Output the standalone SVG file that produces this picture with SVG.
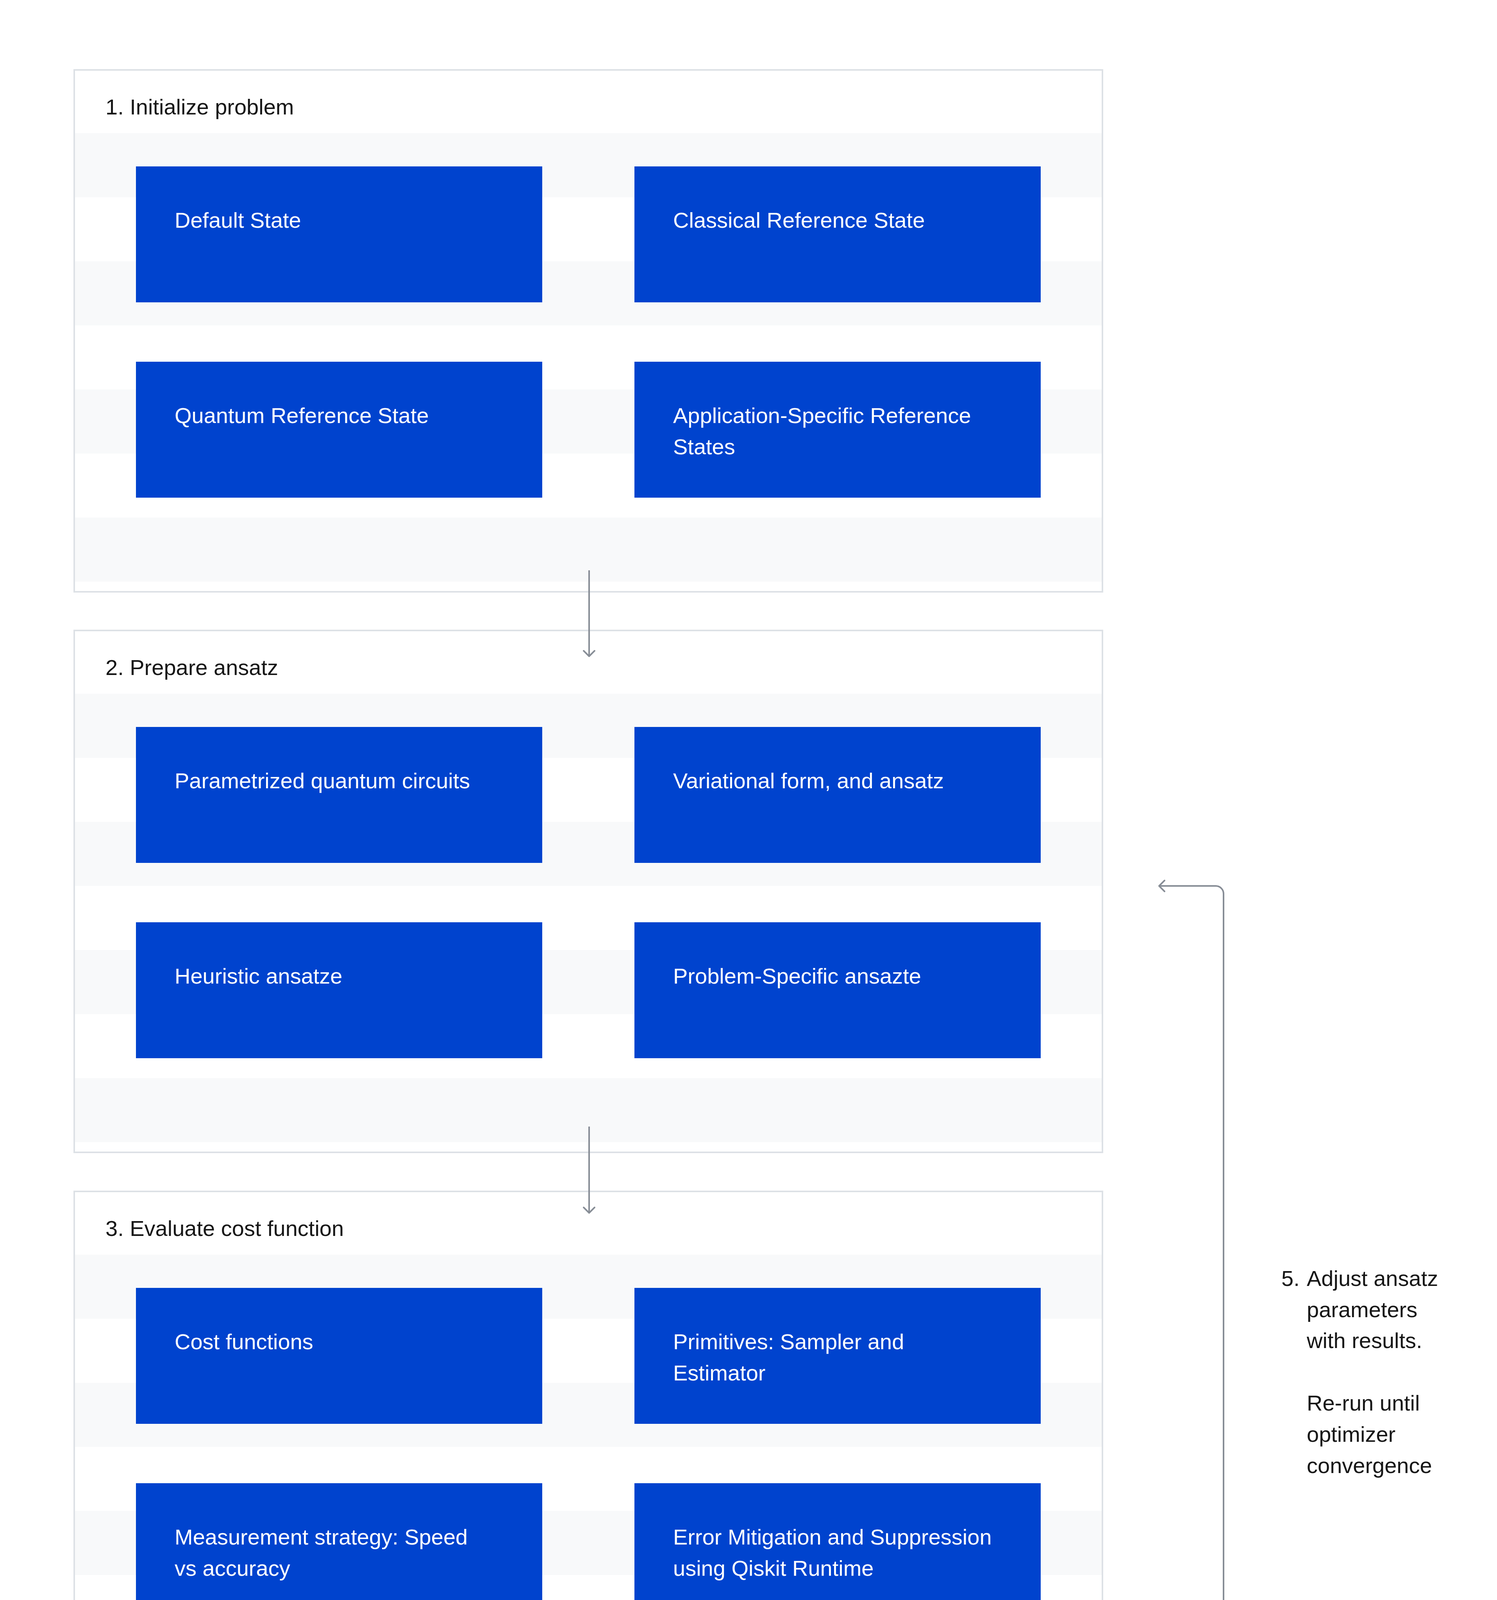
<svg xmlns="http://www.w3.org/2000/svg" width="3832" height="6228" viewBox="0 0 3832 6228">
<style>
.frame{fill:#ffffff;stroke:#dde1e6;stroke-width:4}
.stripe{fill:#f8f9fa}
.box{fill:#0043ce}
.t{font-family:"Liberation Sans",Arial,sans-serif;font-size:56px;fill:#161616}
.bt{font-family:"Liberation Sans",Arial,sans-serif;font-size:56px;fill:#ffffff}
.conn{fill:none;stroke:#878d96;stroke-width:4}
</style>
<defs>
<marker id="ah" markerUnits="userSpaceOnUse" viewBox="-18 -18 22 36" refX="0" refY="0" markerWidth="22" markerHeight="36" orient="auto" overflow="visible">
<path d="M-14,-14 L0,0 L-14,14" fill="none" stroke="#878d96" stroke-width="4" stroke-linecap="round" stroke-linejoin="round"/>
</marker>
</defs>
<rect width="3832" height="6228" fill="#ffffff"/>

<g id="frame1">
<rect class="frame" x="190" y="179" width="2632" height="1336"/>
<rect class="stripe" x="192" y="341" width="2628" height="164"/>
<rect class="stripe" x="192" y="669" width="2628" height="164"/>
<rect class="stripe" x="192" y="997" width="2628" height="164"/>
<rect class="stripe" x="192" y="1325" width="2628" height="164"/>
<text class="t" x="270" y="293">1. Initialize problem</text>
</g>
<g id="frame2">
<rect class="frame" x="190" y="1614" width="2632" height="1336"/>
<rect class="stripe" x="192" y="1776" width="2628" height="164"/>
<rect class="stripe" x="192" y="2104" width="2628" height="164"/>
<rect class="stripe" x="192" y="2432" width="2628" height="164"/>
<rect class="stripe" x="192" y="2760" width="2628" height="164"/>
<text class="t" x="270" y="1728">2. Prepare ansatz</text>
</g>
<g id="frame3">
<rect class="frame" x="190" y="3050" width="2632" height="1336"/>
<rect class="stripe" x="192" y="3212" width="2628" height="164"/>
<rect class="stripe" x="192" y="3540" width="2628" height="164"/>
<rect class="stripe" x="192" y="3868" width="2628" height="164"/>
<rect class="stripe" x="192" y="4196" width="2628" height="164"/>
<text class="t" x="270" y="3164">3. Evaluate cost function</text>
</g>
<g id="frame4">
<rect class="frame" x="190" y="4490" width="2632" height="1336"/>
<rect class="stripe" x="192" y="4652" width="2628" height="164"/>
<rect class="stripe" x="192" y="4980" width="2628" height="164"/>
<rect class="stripe" x="192" y="5308" width="2628" height="164"/>
<rect class="stripe" x="192" y="5636" width="2628" height="164"/>
<text class="t" x="270" y="4604">4. Optimize parameters to get results</text>
</g>

<g id="default-state"><rect class="box" x="348" y="426" width="1040" height="348"/><text class="bt" x="447" y="583">Default State</text></g>
<g id="classical-reference-state"><rect class="box" x="1624" y="426" width="1040" height="348"/><text class="bt" x="1723" y="583">Classical Reference State</text></g>
<g id="quantum-reference-state"><rect class="box" x="348" y="926" width="1040" height="348"/><text class="bt" x="447" y="1083">Quantum Reference State</text></g>
<g id="application-specific-reference-states"><rect class="box" x="1624" y="926" width="1040" height="348"/><text class="bt" x="1723" y="1083">Application-Specific Reference</text><text class="bt" x="1723" y="1163">States</text></g>

<g id="parametrized-quantum-circuits"><rect class="box" x="348" y="1861" width="1040" height="348"/><text class="bt" x="447" y="2018">Parametrized quantum circuits</text></g>
<g id="variational-form"><rect class="box" x="1624" y="1861" width="1040" height="348"/><text class="bt" x="1723" y="2018">Variational form, and ansatz</text></g>
<g id="heuristic-ansatze"><rect class="box" x="348" y="2361" width="1040" height="348"/><text class="bt" x="447" y="2518">Heuristic ansatze</text></g>
<g id="problem-specific-ansatze"><rect class="box" x="1624" y="2361" width="1040" height="348"/><text class="bt" x="1723" y="2518">Problem-Specific ansazte</text></g>

<g id="cost-functions"><rect class="box" x="348" y="3297" width="1040" height="348"/><text class="bt" x="447" y="3454">Cost functions</text></g>
<g id="primitives"><rect class="box" x="1624" y="3297" width="1040" height="348"/><text class="bt" x="1723" y="3454">Primitives: Sampler and</text><text class="bt" x="1723" y="3534">Estimator</text></g>
<g id="measurement-strategy"><rect class="box" x="348" y="3797" width="1040" height="348"/><text class="bt" x="447" y="3954">Measurement strategy: Speed</text><text class="bt" x="447" y="4034">vs accuracy</text></g>
<g id="error-mitigation"><rect class="box" x="1624" y="3797" width="1040" height="348"/><text class="bt" x="1723" y="3954">Error Mitigation and Suppression</text><text class="bt" x="1723" y="4034">using Qiskit Runtime</text></g>

<g id="bootstrapping-optimization"><rect class="box" x="348" y="4737" width="1040" height="348"/><text class="bt" x="447" y="4894">Bootstrapping Optimization</text></g>
<g id="local-global-optimizers"><rect class="box" x="1624" y="4737" width="1040" height="348"/><text class="bt" x="1723" y="4894">Local and Global Optimizers</text></g>
<g id="barren-plateaus"><rect class="box" x="348" y="5237" width="1040" height="348"/><text class="bt" x="447" y="5394">Barren Plateaus</text></g>
<g id="gradient-optimizers"><rect class="box" x="1624" y="5237" width="1040" height="348"/><text class="bt" x="1723" y="5394">Gradient-Based and Gradient-</text><text class="bt" x="1723" y="5474">Free Optimizers</text></g>

<g id="connectors">
<path class="conn" d="M1508,1460 L1508,1680" marker-end="url(#ah)"/>
<path class="conn" d="M1508,2884 L1508,3105" marker-end="url(#ah)"/>
<path class="conn" d="M1508,4324 L1508,4545" marker-end="url(#ah)"/>
<path class="conn" d="M2968,5176 L3112,5176 A20,20 0 0 0 3132,5156 L3132,2288 A20,20 0 0 0 3112,2268 L2967,2268" marker-end="url(#ah)"/>
</g>

<g id="loop-label">
<text class="t" x="3280" y="3292">5.</text>
<text class="t" x="3345" y="3292">Adjust ansatz</text>
<text class="t" x="3345" y="3372">parameters</text>
<text class="t" x="3345" y="3451">with results.</text>
<text class="t" x="3345" y="3611">Re-run until</text>
<text class="t" x="3345" y="3691">optimizer</text>
<text class="t" x="3345" y="3771">convergence</text>
</g>
</svg>
